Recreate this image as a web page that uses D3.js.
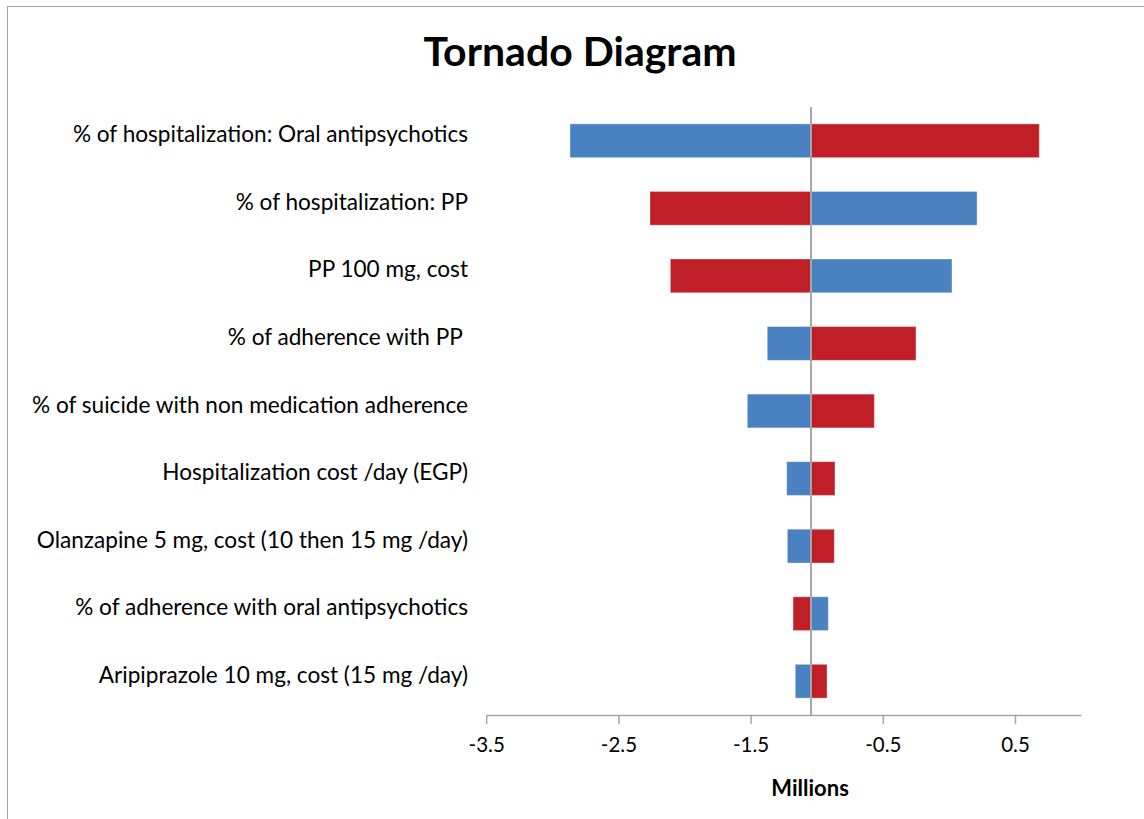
<!DOCTYPE html>
<html>
<head>
<meta charset="utf-8">
<script src="https://cdn.jsdelivr.net/npm/d3@7"></script>
<style>
  html, body { margin: 0; padding: 0; background: #fff; }
  svg { display: block; }
  text { font-family: Lato, "Open Sans", sans-serif; fill: #000; }
</style>
</head>
<body>
<svg id="chart" width="1144" height="819"></svg>
<script>
// Sensitivity parameters, top to bottom
const parameters = [
  "% of hospitalization: Oral antipsychotics",
  "% of hospitalization: PP",
  "PP 100 mg, cost",
  "% of adherence with PP ",
  "% of suicide with non medication adherence",
  "Hospitalization cost /day (EGP)",
  "Olanzapine 5 mg, cost (10 then 15 mg /day)",
  "% of adherence with oral antipsychotics",
  "Aripiprazole 10 mg, cost (15 mg /day)"
];

// Base-case result (millions)
const baseValue = -1.043;

// Result at the low-input end (blue) and high-input end (red), millions
const lowInputValues  = [-2.866, 0.213, 0.023, -1.374, -1.525, -1.227, -1.222, -0.912, -1.162];
const highInputValues = [0.684, -2.261, -2.107, -0.249, -0.564, -0.862, -0.867, -1.179, -0.922];

const xTicks = [-3.5, -2.5, -1.5, -0.5, 0.5];
const xDomain = [-3.5, 1.0];

const colors = { low: "#4a81c0", high: "#c01f27" };

const svg = d3.select("#chart");

// chart frame
svg.append("rect")
  .attr("x", 7.5).attr("y", 6.5)
  .attr("width", 1150).attr("height", 830)
  .attr("fill", "none").attr("stroke", "#a6a6a6").attr("stroke-width", 1);

const plot = { left: 486.2, right: 1081.1, top: 107, bottom: 715 };

const x = d3.scaleLinear().domain(xDomain).range([plot.left, plot.right]);
const y = d3.scaleBand().domain(parameters)
  .range([plot.top, plot.bottom]).paddingInner(0.5).paddingOuter(0.25);

// title
svg.append("text")
  .attr("x", 580).attr("y", 66)
  .attr("text-anchor", "middle")
  .style("font-size", "41px").style("font-weight", "bold")
  .text("Tornado Diagram");

// bars
const rows = parameters.map((p, i) => ({ p, low: lowInputValues[i], high: highInputValues[i] }));
const barG = svg.append("g");
rows.forEach(r => {
  [["low", r.low], ["high", r.high]].forEach(([k, v]) => {
    barG.append("rect")
      .attr("x", x(Math.min(v, baseValue)))
      .attr("y", y(r.p))
      .attr("width", Math.abs(x(v) - x(baseValue)))
      .attr("height", y.bandwidth())
      .attr("fill", colors[k])
      .attr("stroke", "#ffffff").attr("stroke-opacity", 0.35).attr("stroke-width", 1);
  });
});

// base-case line
svg.append("line")
  .attr("x1", x(baseValue)).attr("x2", x(baseValue))
  .attr("y1", plot.top).attr("y2", plot.bottom)
  .attr("stroke", "#a6a6a6").attr("stroke-width", 2);

// category labels
svg.append("g").selectAll("text")
  .data(parameters).join("text")
  .attr("x", 468)
  .attr("y", d => y(d) + y.bandwidth() / 2 + 1.5)
  .attr("text-anchor", "end")
  .style("font-size", "22.6px")
  .style("white-space", "pre")
  .text(d => d);

// x axis
const axis = d3.axisBottom(x)
  .tickValues(xTicks)
  .tickFormat(d => d.toFixed(1))
  .tickSize(9)
  .tickSizeOuter(0);

const axG = svg.append("g")
  .attr("transform", `translate(0,${plot.bottom})`)
  .call(axis);
axG.select(".domain").attr("stroke", "#a6a6a6").attr("stroke-width", 1.5);
axG.selectAll(".tick line").attr("stroke", "#a6a6a6").attr("stroke-width", 1.5);
axG.selectAll(".tick text")
  .attr("y", 22)
  .style("font-size", "20.5px")
  .style("font-family", "Lato, 'Open Sans', sans-serif")
  .attr("fill", "#000");

// axis title
svg.append("text")
  .attr("x", x(-1.05)).attr("y", 796)
  .attr("text-anchor", "middle")
  .style("font-size", "22px").style("font-weight", "bold")
  .text("Millions");
</script>
</body>
</html>
